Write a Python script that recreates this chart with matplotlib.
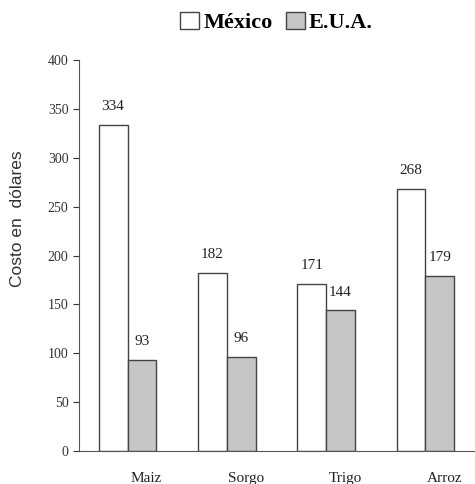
import numpy as np
import matplotlib
matplotlib.use('Agg')
import matplotlib.pyplot as plt
from matplotlib.patches import Patch

# data
cultivos = ['Maiz', 'Sorgo', 'Trigo', 'Arroz']
mexico = [334, 182, 171, 268]
eua = [93, 96, 144, 179]
y_ticks = [0, 50, 100, 150, 200, 250, 300, 350, 400]

plt.rcParams['font.family'] = ['Liberation Serif', 'DejaVu Serif']

fig = plt.figure(figsize=(4.75, 4.84), dpi=100)
ax = fig.add_axes([0.166, 0.068, 0.834, 0.808])

x = np.arange(len(cultivos))
w = 0.29
bars_mx = ax.bar(x - w / 2, mexico, w, color='white', edgecolor='#444444', linewidth=1.0)
bars_us = ax.bar(x + w / 2, eua, w, color='#c6c6c6', edgecolor='#444444', linewidth=1.0)

# value labels above each bar
for b, v in zip(list(bars_mx) + list(bars_us), mexico + eua):
    ax.text(b.get_x() + b.get_width() / 2, v + 12, str(v), ha='center', va='bottom',
            fontsize=11, color='#222222')

ax.set_xlim(-0.49, 3.5)
ax.set_ylim(0, 400)
ax.set_yticks(y_ticks)
ax.tick_params(axis='y', labelsize=10, colors='#333333', length=4, width=0.8)
ax.set_xticks(x + 0.19)
ax.set_xticklabels(cultivos, fontsize=11, color='#222222')
ax.tick_params(axis='x', length=0, pad=15)
ax.set_ylabel('Costo en  dólares', fontsize=12.5, color='#333333',
              family=['Liberation Sans', 'DejaVu Sans'])
ax.yaxis.set_label_coords(-0.136, 0.593)

for s in ['top', 'right']:
    ax.spines[s].set_visible(False)
ax.spines['left'].set_color('#555555')
ax.spines['bottom'].set_color('#555555')

handles = [Patch(facecolor='white', edgecolor='#444444', label='México'),
           Patch(facecolor='#c6c6c6', edgecolor='#444444', label='E.U.A.')]
fig.legend(handles=handles, loc='center', bbox_to_anchor=(0.582, 0.953), ncol=2,
           frameon=False, prop={'weight': 'bold', 'size': 16},
           handlelength=0.85, handleheight=0.75, handletextpad=0.2, columnspacing=0.6)

plt.savefig('out.png', dpi=100)
plt.close()
